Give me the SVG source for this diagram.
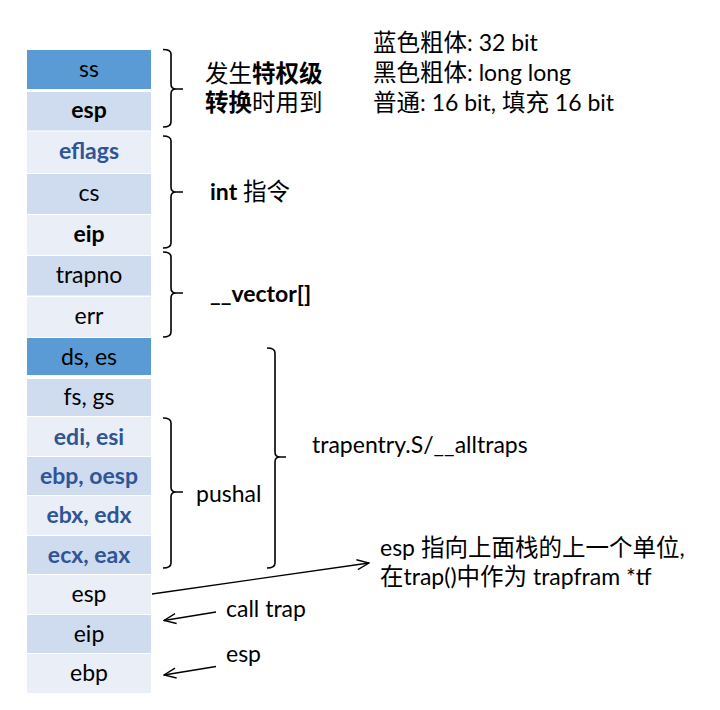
<svg xmlns="http://www.w3.org/2000/svg" width="720" height="710" viewBox="0 0 720 710">
<defs>
<style>
.t{font-family:Lato,"Noto Sans","Noto Sans CJK SC",sans-serif;font-size:23px;fill:#000}
.c{text-anchor:middle}
.b{font-weight:bold}
.bl{font-weight:bold;fill:#2F5597}
.cj{font-family:"Noto Sans CJK SC",sans-serif;font-size:23.5px}
.d{fill:#5B9BD5}
.m{fill:#CFDBEE}
.l{fill:#E9EEF7}
.br{fill:none;stroke:#000;stroke-width:1.6}
.ar{fill:none;stroke:#000;stroke-width:1.3}
</style>
<marker id="ah" markerWidth="14" markerHeight="12" refX="13" refY="6" orient="auto" markerUnits="userSpaceOnUse">
<path d="M1,1 L13,6 L1,11" fill="none" stroke="#000" stroke-width="1.3"/>
</marker>
</defs>
<rect width="720" height="710" fill="#fff"/>
<g id="stack">
<g id="r1"><rect class="d" x="27" y="50" width="124" height="39"/><text class="t c" x="89" y="77">ss</text></g>
<g id="r2"><rect class="m" x="27" y="92" width="124" height="38.5"/><text class="t c b" x="89" y="118">esp</text></g>
<g id="r3"><rect class="l" x="27" y="131.5" width="124" height="41.5"/><text class="t c bl" x="89" y="159">eflags</text></g>
<g id="r4"><rect class="m" x="27" y="174" width="124" height="40"/><text class="t c" x="89" y="201">cs</text></g>
<g id="r5"><rect class="l" x="27" y="215" width="124" height="40"/><text class="t c b" x="89" y="242">eip</text></g>
<g id="r6"><rect class="m" x="27" y="256" width="124" height="39.5"/><text class="t c" x="89" y="283">trapno</text></g>
<g id="r7"><rect class="l" x="27" y="297" width="124" height="40"/><text class="t c" x="89" y="324">err</text></g>
<g id="r8"><rect class="d" x="27" y="338" width="124" height="37"/><text class="t c" x="89" y="365">ds, es</text></g>
<g id="r9"><rect class="m" x="27" y="379" width="124" height="37"/><text class="t c" x="89" y="405">fs, gs</text></g>
<g id="r10"><rect class="l" x="27" y="417" width="124" height="39"/><text class="t c bl" x="89" y="445">edi, esi</text></g>
<g id="r11"><rect class="m" x="27" y="457" width="124" height="38"/><text class="t c bl" x="89" y="484">ebp, oesp</text></g>
<g id="r12"><rect class="l" x="27" y="496" width="124" height="39"/><text class="t c bl" x="89" y="523">ebx, edx</text></g>
<g id="r13"><rect class="m" x="27" y="536" width="124" height="38"/><text class="t c bl" x="89" y="563">ecx, eax</text></g>
<g id="r14"><rect class="l" x="27" y="575" width="124" height="39"/><text class="t c" x="89" y="602">esp</text></g>
<g id="r15"><rect class="m" x="27" y="615" width="124" height="38"/><text class="t c" x="89" y="642">eip</text></g>
<g id="r16"><rect class="l" x="27" y="654" width="124" height="39"/><text class="t c" x="89" y="681">ebp</text></g>
</g>
<g id="braces">
<path class="br" d="M163,49.5 Q171,49.5 171,54 L171,84 Q171,89 176,89 L183,89 M176,89 Q171,89 171,94 L171,122 Q171,127 163,127"/>
<path class="br" d="M163,136 Q171,136 171,141 L171,187 Q171,192 176,192 L183,192 M176,192 Q171,192 171,197 L171,243 Q171,248 163,248"/>
<path class="br" d="M163,252 Q171,252 171,257 L171,288 Q171,293 176,293 L183,293 M176,293 Q171,293 171,298 L171,332 Q171,337 163,337"/>
<path class="br" d="M163,418 Q171,418 171,423 L171,487 Q171,492 176,492 L183,492 M176,492 Q171,492 171,497 L171,563 Q171,568 163,568"/>
<path class="br" d="M267,348 Q275,348 275,353 L275,452 Q275,457 280,457 L286,457 M280,457 Q275,457 275,462 L275,563 Q275,568 267,568"/>
</g>
<g id="connectors">
<line class="ar" x1="152" y1="594" x2="369" y2="563" marker-end="url(#ah)"/>
<line class="ar" x1="216" y1="612" x2="164" y2="620.5" marker-end="url(#ah)"/>
<line class="ar" x1="216" y1="666.5" x2="164" y2="675" marker-end="url(#ah)"/>
</g>
<g id="labels">
<text class="t" x="205" y="82"><tspan class="cj">发生</tspan><tspan class="cj b">特权级</tspan></text>
<text class="t" x="205" y="111"><tspan class="cj b">转换</tspan><tspan class="cj">时用到</tspan></text>
<text class="t" x="210" y="200"><tspan class="b">int</tspan> <tspan class="cj">指令</tspan></text>
<text class="t b" x="210" y="302">__vector[]</text>
<text class="t" x="196" y="502">pushal</text>
<text class="t" x="312" y="453">trapentry.S/__alltraps</text>
<text class="t" x="380" y="556">esp <tspan class="cj">指向上面栈的上一个单位</tspan>,</text>
<text class="t" x="380" y="585"><tspan class="cj">在</tspan>trap()<tspan class="cj">中作为</tspan> trapfram *tf</text>
<text class="t" x="226" y="617">call trap</text>
<text class="t" x="226" y="662">esp</text>
</g>
<g id="legend">
<text class="t" x="373" y="51"><tspan class="cj">蓝色粗体</tspan>: 32 bit</text>
<text class="t" x="373" y="81"><tspan class="cj">黑色粗体</tspan>: long long</text>
<text class="t" x="373" y="111"><tspan class="cj">普通</tspan>: 16 bit, <tspan class="cj">填充</tspan> 16 bit</text>
</g>
</svg>
